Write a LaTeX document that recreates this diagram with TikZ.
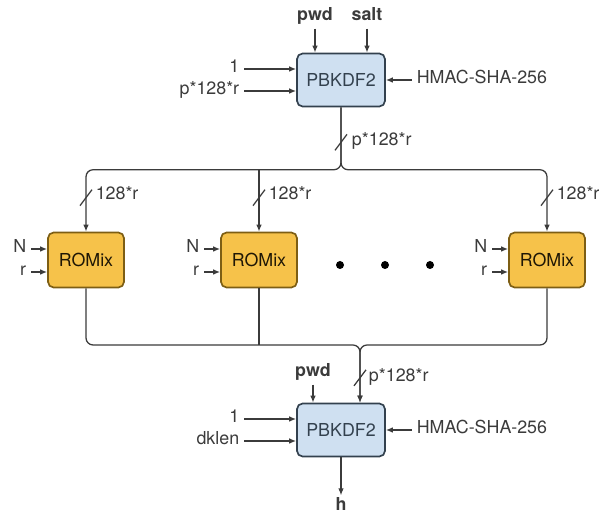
\documentclass[tikz,border=0pt]{standalone}
\usepackage{fontspec}
\setmainfont{TeX Gyre Heros}
\usetikzlibrary{arrows.meta, calc, positioning}
\definecolor{kdfblue}{HTML}{CFE0F1}
\definecolor{kdfedge}{HTML}{33414E}
\definecolor{romyellow}{HTML}{F6C24A}
\definecolor{romedge}{HTML}{7D5E14}
\definecolor{wiregray}{HTML}{3B3B3B}
\newcommand{\lblfont}{\fontsize{12.7}{15}\selectfont}

\tikzset{
  kdf/.style={draw=kdfedge, fill=kdfblue, line width=1.2pt, rounded corners=4pt,
    minimum width=2.2cm, minimum height=1.325cm, text=kdfedge},
  romix/.style={draw=romedge, fill=romyellow, line width=1.2pt, rounded corners=4pt,
    minimum width=1.9cm, minimum height=1.375cm, text=black!75!romedge},
  line/.style={draw=wiregray, line width=0.9pt},
  wire/.style={line, -{Latex[length=5pt,width=4pt]}},
  lbl/.style={text=wiregray, text height=0.75em, text depth=0.25em},
  inbold/.style={lbl, font=\lblfont\bfseries},
  slashmark/.style={line},
}

\begin{document}
\begin{tikzpicture}[every node/.style={font=\lblfont}]
\useasboundingbox (0,0) rectangle (15,12.9);

% blocks
\node[kdf] (kdfA) at (8.525,10.9) {PBKDF2};
\node[romix] (rom1) at (2.15,6.4) {ROMix};
\node[romix] (rom2) at (6.475,6.4) {ROMix};
\node[romix] (rom4) at (13.675,6.4) {ROMix};
\node[kdf] (kdfB) at (8.525,2.15) {PBKDF2};
\foreach \x in {8.5,9.625,10.75}
  \fill[black] (\x,6.275) circle (0.1);

% first PBKDF2
\node[inbold, anchor=south] (pwdA) at ($(kdfA.north)+(-0.65,0.6)$) {pwd};
\node[inbold, anchor=south] (saltA) at ($(kdfA.north)+(0.65,0.6)$) {salt};
\draw[wire] (pwdA) -- (pwdA |- kdfA.north);
\draw[wire] (saltA) -- (saltA |- kdfA.north);
\node[lbl, anchor=east] (oneA) at ($(kdfA.west)+(-1.3,0.275)$) {1};
\node[lbl, anchor=east] (lenA) at ($(kdfA.west)+(-1.3,-0.275)$) {p*128*r};
\draw[wire] (oneA) -- (oneA -| kdfA.west);
\draw[wire] (lenA) -- (lenA -| kdfA.west);
\node[lbl, anchor=west] (hashA) at ($(kdfA.east)+(0.65,0)$) {HMAC-SHA-256};
\draw[wire] (hashA) -- (kdfA);

% split bus
\coordinate (busA) at ($(kdfA.south)+(0,-1.56)$);
\draw[wire, rounded corners=5pt] (kdfA.south) |- (rom1 |- busA) -- (rom1.north);
\draw[wire, rounded corners=5pt] (kdfA.south) |- (rom4 |- busA) -- (rom4.north);
\draw[wire] (rom2 |- busA) -- (rom2.north);
\coordinate (cutA) at ($(kdfA.south)+(0,-0.875)$);
\draw[slashmark] ($(cutA)+(-0.15,-0.2)$) -- ++(0.3,0.4);
\node[lbl, anchor=west] at ($(cutA)+(0.15,0)$) {p*128*r};

% ROMix inputs
\foreach \r in {rom1,rom2,rom4}{
  \coordinate (cut\r) at ($(\r.north)+(0,0.85)$);
  \draw[slashmark] ($(cut\r)+(-0.15,-0.2)$) -- ++(0.3,0.4);
  \node[lbl, anchor=west] at ($(cut\r)+(0.12,0.05)$) {128*r};
  \node[lbl, anchor=east] (N\r) at ($(\r.west)+(-0.4,0.275)$) {N};
  \node[lbl, anchor=east] (r\r) at ($(\r.west)+(-0.4,-0.3)$) {r};
  \draw[wire] (N\r) -- (N\r -| \r.west);
  \draw[wire] (r\r) -- (r\r -| \r.west);
}

% merge bus
\coordinate (inB) at ($(kdfB.north)+(0.475,0)$);
\coordinate (busB) at (0,4.275);
\draw[wire, rounded corners=5pt] (rom1.south) |- (inB |- busB) -- (inB);
\draw[wire, rounded corners=5pt] (rom4.south) |- (inB |- busB) -- (inB);
\draw[line] (rom2.south) -- (rom2 |- busB);
\coordinate (cutB) at ($(inB)+(0,0.62)$);
\draw[slashmark] ($(cutB)+(-0.15,-0.2)$) -- ++(0.3,0.4);
\node[lbl, anchor=west] at ($(cutB)+(0.1,0)$) {p*128*r};

% second PBKDF2
\node[inbold, anchor=south] (pwdB) at ($(kdfB.north)+(-0.7,0.45)$) {pwd};
\draw[wire] (pwdB) -- (pwdB |- kdfB.north);
\node[lbl, anchor=east] (oneB) at ($(kdfB.west)+(-1.3,0.275)$) {1};
\node[lbl, anchor=east] (lenB) at ($(kdfB.west)+(-1.3,-0.275)$) {dklen};
\draw[wire] (oneB) -- (oneB -| kdfB.west);
\draw[wire] (lenB) -- (lenB -| kdfB.west);
\node[lbl, anchor=west] (hashB) at ($(kdfB.east)+(0.65,0)$) {HMAC-SHA-256};
\draw[wire] (hashB) -- (kdfB);
\node[inbold, below=0.95cm of kdfB] (hB) {h};
\draw[wire] (kdfB) -- (hB);
\end{tikzpicture}
\end{document}
